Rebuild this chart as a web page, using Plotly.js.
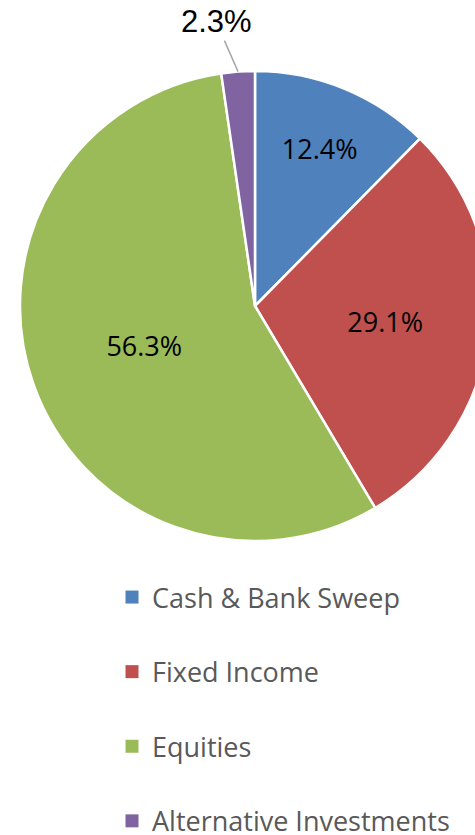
<!DOCTYPE html>
<html>
<head>
<meta charset="utf-8">
<script src="https://cdn.plot.ly/plotly-3.0.1.min.js"></script>
<style>
html,body{margin:0;padding:0;overflow:hidden;background:#fff;}
#chart{width:490px;height:835px;}
</style>
</head>
<body>
<div id="chart"></div>
<script>
// ---- data ----
var categories = ["Cash & Bank Sweep", "Fixed Income", "Equities", "Alternative Investments"];
var shares = [12.4, 29.1, 56.3, 2.3];
var sliceColors = ["#4F81BD", "#C0504D", "#9BBB59", "#8064A2"];
var labelPositions = ["inside", "inside", "inside", "none"];

// ---- layout helpers ----
var W = 490, H = 835;
var domX = [20 / W, 1.0];
var domY = [1 - 541 / H, 1 - 71 / H];

var total = shares.reduce(function (a, b) { return a + b; }, 0);
var pieTrace = {
  type: "pie",
  labels: categories,
  values: shares,
  sort: false,
  direction: "clockwise",
  rotation: 0,
  marker: { colors: sliceColors, line: { color: "#ffffff", width: 2.5 } },
  textinfo: "text",
  text: shares.map(function (v) { return v.toFixed(1) + "%"; }),
  textposition: labelPositions,
  insidetextorientation: "horizontal",
  insidetextfont: { family: "Open Sans", size: 27, color: "#000000" },
  showlegend: false,
  hoverinfo: "label+percent",
  domain: { x: domX, y: domY }
};

// legend entries (one per category)
var legendTraces = categories.map(function (c, i) {
  return {
    type: "scatter", mode: "markers", x: [null], y: [null],
    name: c, legendgroup: "g" + i,
    marker: { symbol: "square", size: 13, color: sliceColors[i] },
    hoverinfo: "skip"
  };
});

// outside label for small slice(s) with a leader line
var annotations = [];
var cum = 0;
var cxPx = (domX[0] + domX[1]) / 2 * W;
var cyPx = (1 - (domY[0] + domY[1]) / 2) * H;
var rPx = Math.min((domX[1] - domX[0]) * W, (domY[1] - domY[0]) * H) / 2;
shares.forEach(function (v, i) {
  var mid = (cum + v / 2) / total * 2 * Math.PI;
  cum += v;
  if (labelPositions[i] === "none") {
    var px = cxPx + rPx * Math.sin(mid);
    var py = cyPx - rPx * Math.cos(mid);
    annotations.push({
      xref: "paper", yref: "paper",
      x: px / W, y: 1 - py / H,
      text: v.toFixed(1) + "%",
      showarrow: true, arrowhead: 0, arrowwidth: 1.5, arrowcolor: "#A6A6A6",
      ax: -22, ay: -50, standoff: 0,
      font: { family: "Liberation Sans", size: 31, color: "#000000" }
    });
  }
});

var layout = {
  width: W, height: H,
  margin: { l: 0, r: 0, t: 0, b: 0, autoexpand: false },
  paper_bgcolor: "#ffffff",
  plot_bgcolor: "rgba(0,0,0,0)",
  xaxis: { visible: false, domain: [0, 0.01] },
  yaxis: { visible: false, domain: [0, 0.01] },
  showlegend: true,
  legend: {
    xref: "paper", yref: "paper",
    x: 112 / W, xanchor: "left",
    y: 1 - 573 / H, yanchor: "top",
    traceorder: "grouped",
    tracegroupgap: 36.5,
    font: { family: "Open Sans", size: 27, color: "#595959" },
    bgcolor: "rgba(0,0,0,0)"
  },
  annotations: annotations
};

Plotly.newPlot("chart", [pieTrace].concat(legendTraces), layout, { displayModeBar: false, staticPlot: true });
</script>
</body>
</html>
